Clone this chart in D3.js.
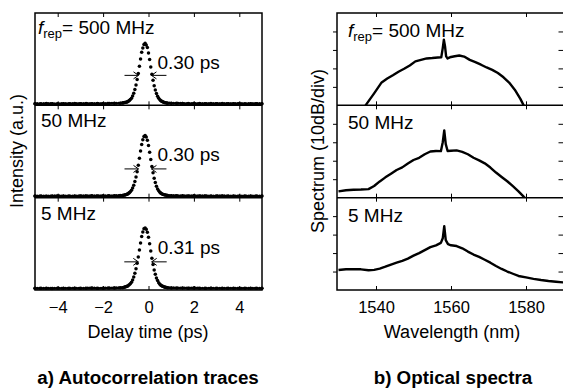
<!DOCTYPE html>
<html><head><meta charset="utf-8">
<script src="https://cdn.jsdelivr.net/npm/d3@7"></script>
<style>
body{margin:0;background:#fff}
svg{display:block}
text{font-family:"Liberation Sans",Arial,Helvetica,sans-serif;fill:#000}
</style>
</head><body>
<svg id="c" width="563" height="392"></svg>
<script>
// ---------- data ----------
const delays = [-5,-4.75,-4.5,-4.25,-4,-3.75,-3.5,-3.25,-3,-2.75,-2.5,-2.25,-2,-1.75,-1.5,-1.25,
  -1.15,-1.1,-1.05,-1,-0.95,-0.9,-0.85,-0.8,-0.75,-0.7,-0.65,-0.6,-0.55,-0.5,-0.45,-0.4,-0.35,-0.3,-0.25,-0.2,
  -0.15,
  -0.1,-0.05,0,0.05,0.1,0.15,0.2,0.25,0.3,0.35,0.4,0.45,0.5,0.55,0.6,0.65,0.7,0.75,0.8,0.85,
  1,1.25,1.5,1.75,2,2.25,2.5,2.75,3,3.25,3.5,3.75,4,4.25,4.5,4.75,5];
const ac500 = [0.003,0,0.004,0.002,0,0.003,0.001,0.004,0.002,0.005,0.003,0.006,0.004,0.007,0.008,0.01,
  0.012,0.016,0.02,0.024,0.031,0.04,0.053,0.07,0.094,0.13,0.176,0.236,0.31,0.40,0.50,0.62,0.74,0.85,0.92,0.98,
  1.0,
  0.97,0.93,0.84,0.73,0.61,0.49,0.39,0.30,0.23,0.17,0.125,0.09,0.068,0.05,0.039,0.029,0.023,0.018,0.014,0.011,
  0.009,0.008,0.006,0.005,0.006,0.004,0.003,0.005,0.002,0.004,0.003,0.002,0.004,0.001,0.003,0.002,0.003];
const ac50 = [0.002,0.003,0,0.002,0.004,0.001,0.003,0.002,0.004,0.003,0.005,0.004,0.006,0.005,0.007,0.009,
  0.011,0.015,0.019,0.025,0.03,0.041,0.055,0.072,0.097,0.133,0.18,0.24,0.315,0.405,0.51,0.625,0.745,0.855,0.93,0.985,
  1.0,
  0.975,0.925,0.835,0.725,0.605,0.49,0.385,0.295,0.225,0.165,0.12,0.088,0.066,0.049,0.037,0.028,0.022,0.017,0.013,0.01,
  0.008,0.007,0.006,0.004,0.005,0.003,0.004,0.002,0.003,0.004,0.002,0.003,0.001,0.003,0.002,0.001,0.002];
const ac5 = [0.004,0.002,0.003,0.001,0.004,0.002,0.003,0.005,0.002,0.004,0.006,0.003,0.005,0.007,0.009,0.011,
  0.014,0.018,0.023,0.028,0.035,0.045,0.06,0.078,0.104,0.14,0.19,0.25,0.325,0.415,0.52,0.635,0.75,0.86,0.935,0.985,
  1.0,
  0.98,0.93,0.845,0.74,0.62,0.5,0.395,0.305,0.235,0.175,0.13,0.095,0.071,0.053,0.04,0.031,0.024,0.019,0.015,0.012,
  0.01,0.008,0.007,0.005,0.006,0.004,0.003,0.005,0.003,0.002,0.004,0.003,0.002,0.004,0.002,0.003,0.002];
const acSeries = [ac500, ac50, ac5];
const repRates = ["500 MHz","50 MHz","5 MHz"];
const fwhmLabels = ["0.30 ps","0.30 ps","0.31 ps"];
const fwhmEdges = [[-0.44,0.13],[-0.44,0.13],[-0.45,0.14]];
const fwhmLevel = [0.47,0.45,0.44];
const delayTicks = [-4,-2,0,2,4];

const wl500 = [1536.0,1537.5,1539.5,1541.5,1543,1544.5,1546,1547.5,1549,1550.5,1552,1553.5,1555,1556.5,1557.4,1557.8,1558.1,1558.4,1558.7,1559.1,1560,1561,1562.2,1563.5,1565,1566.5,1568,1569.5,1571,1572.5,1574,1575.5,1577,1578.5,1579.5,1580.5];
const db500 = [-4,0.8,6.5,12.4,14.5,16.3,18.2,19.8,21.6,23.8,24.6,25.4,25.6,25.9,26.0,31,35.5,32,26.5,25.4,26.2,26.6,27,26.4,24.6,23.4,22.0,20.5,19.2,17.5,15.2,12.3,8.5,3.5,-0.5,-4];
const wl50 = [1530,1532,1534,1536,1538,1539.5,1541,1542.5,1544,1545.5,1547,1548.5,1550,1551.5,1553,1554.5,1556,1557.3,1557.8,1558.2,1558.6,1559.1,1560,1561.5,1563,1564.5,1566,1567.5,1569,1570.5,1572,1573.5,1575,1576.5,1578,1579.5,1581];
const db50 = [3.4,4.0,4.3,4.4,4.6,6.3,8.8,11.0,13.0,15.0,16.4,18.5,20.4,21.6,23.5,25.0,25.3,25.2,30,36.4,29,25.3,25.4,25.6,24.8,23.5,21.6,20.2,18.6,16.3,13.6,11.2,8.9,6.2,3.4,0.3,-2.5];
const wl5 = [1530,1532,1534,1536,1538,1539.5,1541,1542.5,1544,1545.5,1547,1548.5,1550,1551.5,1553,1554.5,1556,1557.3,1557.8,1558.2,1558.6,1559.2,1560,1561.5,1563,1564.5,1566,1567.5,1569,1570.5,1572,1573.5,1575,1576.5,1578,1580,1582,1584,1586,1588,1590];
const db5 = [10.8,11.2,11.3,11.2,10.7,10.9,11.6,12.6,13.8,14.8,15.8,17.0,18.6,20.0,21.6,23.2,24.2,25.5,28,34.6,27,24.8,24.2,23.8,22.6,20.8,19.2,17.9,16.4,14.8,13.0,11.4,10.0,8.8,7.6,6.8,6.0,5.4,4.9,4.5,4.1];
const specWl = [wl500, wl50, wl5];
const specDb = [db500, db50, db5];
const wlTicks = [1540,1560,1580];
const dbTicks = [10,20,30,40];

// ---------- drawing ----------
const svg = d3.select("#c");
const panelY = d3.scaleLinear().domain([0,3]).range([13,290]);

function repLabel(g, x, y, first, txt){
  const t = g.append("text").attr("x",x).attr("y",y).attr("font-size",19);
  if(first){
    t.append("tspan").attr("font-style","italic").text("f");
    t.append("tspan").attr("font-size",13).attr("dy",4).text("rep");
    t.append("tspan").attr("dy",-4).text("= " + txt);
  } else t.text(txt);
}

// ----- left: autocorrelation -----
const xL = d3.scaleLinear().domain([-5,5]).range([35,262]);
const L = svg.append("g");
acSeries.forEach((vals,i)=>{
  const top = panelY(i), bot = panelY(i+1);
  const y = d3.scaleLinear().domain([-0.025,1.5]).range([bot,top]);
  const pts = delays.map((d,k)=>[d,vals[k]]);
  // dense baseline beads
  L.append("path").datum(pts)
    .attr("d", d3.line().defined(d=>d[1]<0.06).x(d=>xL(d[0])).y(d=>y(d[1])))
    .attr("fill","none").attr("stroke","#000").attr("stroke-width",3.2)
    .attr("stroke-linecap","round").attr("stroke-dasharray","0 2.2");
  // sampled points
  L.append("g").selectAll("circle").data(pts).join("circle")
    .attr("cx",d=>xL(d[0])).attr("cy",d=>y(d[1])).attr("r",1.75).attr("fill","#000");
  L.append("g").attr("transform",`translate(0,${top})`)
    .call(d3.axisTop(xL).tickValues(delayTicks).tickSize(-4).tickFormat(""))
    .call(g=>g.select(".domain").remove());
  L.append("g").attr("transform",`translate(0,${bot})`)
    .call(d3.axisBottom(xL).tickValues(delayTicks).tickSize(-4).tickFormat(""))
    .call(g=>g.select(".domain").remove());
  const ay = y(fwhmLevel[i]);
  const xl = xL(fwhmEdges[i][0]), xr = xL(fwhmEdges[i][1]);
  L.append("path").attr("d",`M${xl-14},${ay}H${xl}M${xl-5},${ay-3.5}L${xl},${ay}L${xl-5},${ay+3.5}`)
    .attr("fill","none").attr("stroke","#000").attr("stroke-width",1);
  L.append("path").attr("d",`M${xr+15},${ay}H${xr}M${xr+5},${ay-3.5}L${xr},${ay}L${xr+5},${ay+3.5}`)
    .attr("fill","none").attr("stroke","#000").attr("stroke-width",1);
  L.append("text").attr("x",xr+6).attr("y",top+56).attr("font-size",19).text(fwhmLabels[i]);
  repLabel(L, i===0?38:41, top+(i===0?21:22), i===0, repRates[i]);
});
L.selectAll(".tick line").attr("stroke","#000").attr("stroke-width",1);
L.append("rect").attr("x",35).attr("y",13).attr("width",227).attr("height",277)
  .attr("fill","none").attr("stroke","#000").attr("stroke-width",1.5);
[1,2].forEach(i=>L.append("line").attr("x1",35).attr("x2",262).attr("y1",panelY(i)).attr("y2",panelY(i))
  .attr("stroke","#000").attr("stroke-width",1.5));
const axL = L.append("g").attr("transform","translate(0,290)")
  .call(d3.axisBottom(xL).tickValues(delayTicks).tickSize(0).tickPadding(11));
axL.select(".domain").remove();
axL.selectAll("text").attr("font-size",16.5).attr("font-family","Liberation Sans, Arial, sans-serif");
L.append("text").attr("x",148).attr("y",338).attr("text-anchor","middle").attr("font-size",18).text("Delay time (ps)");
L.append("text").attr("transform","translate(23,151) rotate(-90)").attr("text-anchor","middle").attr("font-size",18).text("Intensity (a.u.)");
L.append("text").attr("x",148).attr("y",384).attr("text-anchor","middle").attr("font-size",18.8).attr("font-weight","bold").text("a) Autocorrelation traces");

// ----- right: spectra -----
const xR = d3.scaleLinear().domain([1529.6,1590]).range([337,563.5]);
const R = svg.append("g");
specWl.forEach((wl,i)=>{
  const top = panelY(i), bot = panelY(i+1);
  const y = d3.scaleLinear().domain([0,50]).range([bot,top]);
  const pts = wl.map((w,k)=>[w,specDb[i][k]]);
  R.append("clipPath").attr("id","cp"+i)
    .append("rect").attr("x",337).attr("y",top).attr("width",230).attr("height",bot-top);
  R.append("path").datum(pts).attr("clip-path",`url(#cp${i})`)
    .attr("d", d3.line().x(d=>xR(d[0])).y(d=>y(d[1])))
    .attr("fill","none").attr("stroke","#000").attr("stroke-width",2.4).attr("stroke-linejoin","round");
  R.append("g").attr("transform","translate(337,0)")
    .call(d3.axisLeft(y).tickValues(dbTicks).tickSize(4).tickFormat(""))
    .call(g=>g.select(".domain").remove());
  R.append("g").attr("transform","translate(563.5,0)")
    .call(d3.axisRight(y).tickValues(dbTicks).tickSize(-5).tickFormat(""))
    .call(g=>g.select(".domain").remove());
  R.append("g").attr("transform",`translate(0,${top})`)
    .call(d3.axisTop(xR).tickValues(wlTicks).tickSize(-4).tickFormat(""))
    .call(g=>g.select(".domain").remove());
  R.append("g").attr("transform",`translate(0,${bot})`)
    .call(d3.axisBottom(xR).tickValues(wlTicks).tickSize(-4).tickFormat(""))
    .call(g=>g.select(".domain").remove());
  repLabel(R, 348, top+24, i===0, repRates[i]);
});
R.selectAll(".tick line").attr("stroke","#000").attr("stroke-width",1);
R.append("rect").attr("x",337).attr("y",13).attr("width",228).attr("height",277)
  .attr("fill","none").attr("stroke","#000").attr("stroke-width",1.5);
[1,2].forEach(i=>R.append("line").attr("x1",337).attr("x2",565).attr("y1",panelY(i)).attr("y2",panelY(i))
  .attr("stroke","#000").attr("stroke-width",1.5));
const axR = R.append("g").attr("transform","translate(0,290)")
  .call(d3.axisBottom(xR).tickValues(wlTicks).tickSize(0).tickPadding(11).tickFormat(d3.format("d")));
axR.select(".domain").remove();
axR.selectAll("text").attr("font-size",16.5).attr("font-family","Liberation Sans, Arial, sans-serif");
R.append("text").attr("x",452).attr("y",338).attr("text-anchor","middle").attr("font-size",18).text("Wavelength (nm)");
R.append("text").attr("transform","translate(324,151) rotate(-90)").attr("text-anchor","middle").attr("font-size",18).text("Spectrum (10dB/div)");
R.append("text").attr("x",453).attr("y",384).attr("text-anchor","middle").attr("font-size",18.8).attr("font-weight","bold").text("b) Optical spectra");
</script>
</body></html>
